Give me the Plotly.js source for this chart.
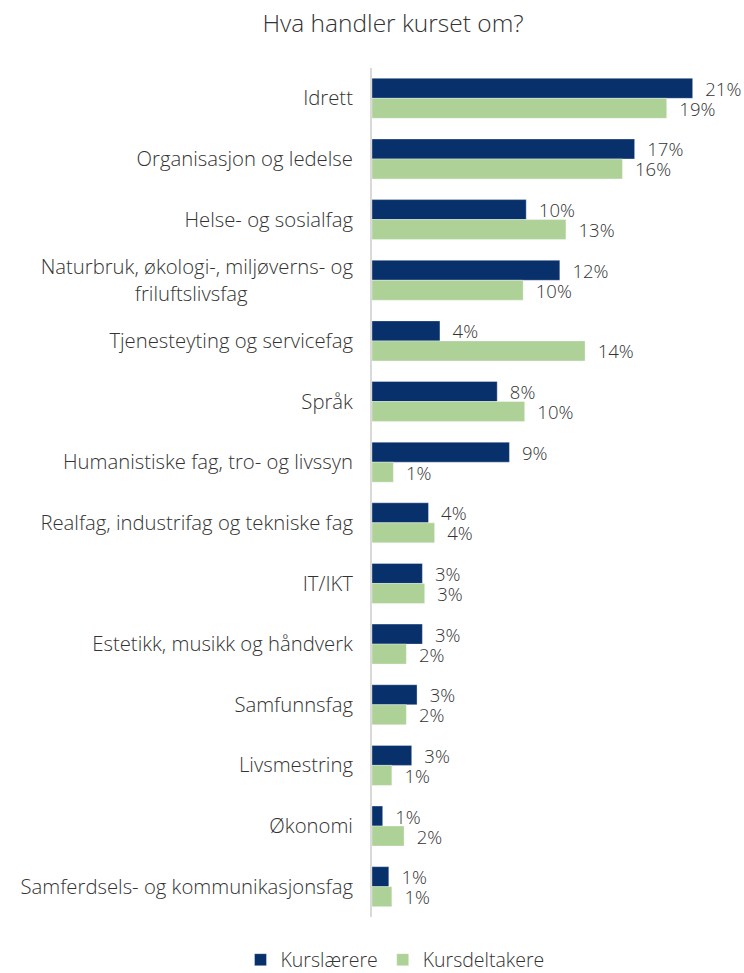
<!DOCTYPE html>
<html>
<head>
<meta charset="utf-8">
<script src="https://cdn.plot.ly/plotly-3.0.1.min.js"></script>
<style>html,body{margin:0;padding:0;background:#fff;}#chart{width:744px;height:973px;}</style>
</head>
<body>
<div id="chart"></div>
<script>
const categories = [
  "Idrett",
  "Organisasjon og ledelse",
  "Helse- og sosialfag",
  "Naturbruk, økologi-, miljøverns- og friluftslivsfag",
  "Tjenesteyting og servicefag",
  "Språk",
  "Humanistiske fag, tro- og livssyn",
  "Realfag, industrifag og tekniske fag",
  "IT/IKT",
  "Estetikk, musikk og håndverk",
  "Samfunnsfag",
  "Livsmestring",
  "Økonomi",
  "Samferdsels- og kommunikasjonsfag"
];
const seriesNames = ["Kurslærere", "Kursdeltakere"];
const kurslaerere = [21.0, 17.2, 10.1, 12.3, 4.45, 8.2, 9.0, 3.7, 3.3, 3.3, 2.95, 2.6, 0.7, 1.1];
const kursdeltakere = [19.3, 16.4, 12.7, 9.9, 13.95, 10.0, 1.4, 4.1, 3.45, 2.25, 2.25, 1.3, 2.1, 1.3];
const labelsKurslaerere = ["21%", "17%", "10%", "12%", "4%", "8%", "9%", "4%", "3%", "3%", "3%", "3%", "1%", "1%"];
const labelsKursdeltakere = ["19%", "16%", "13%", "10%", "14%", "10%", "1%", "4%", "3%", "2%", "2%", "1%", "2%", "1%"];

const FONT = "'Open Sans', Lato, sans-serif";
const pad = "\u00a0\u00a0";
const textColor = "#333333";

// display text for tick labels: wrap the long one, centring its second line
const tickText = categories.map(c => c.startsWith("Naturbruk")
  ? "Naturbruk, økologi-, miljøverns- og<br>friluftslivsfag" + "\u00a0".repeat(20)
  : c);

function bar(name, vals, labels, color) {
  return {
    type: "bar",
    orientation: "h",
    name: name,
    y: categories,
    x: vals,
    text: labels.map(l => pad + l),
    textposition: "outside",
    constraintext: "none",
    cliponaxis: false,
    textfont: {family: FONT, size: 18.5, color: textColor, weight: 300},
    marker: {color: color, line: {color: "rgba(255,255,255,0.35)", width: 1}},
    hoverinfo: "skip"
  };
}

const data = [
  bar(seriesNames[0], kurslaerere, labelsKurslaerere, "#08306b"),
  bar(seriesNames[1], kursdeltakere, labelsKursdeltakere, "#add196")
];

const plotW = 744 - 372 - 2;
const layout = {
  width: 744,
  height: 973,
  margin: {l: 372, r: 2, t: 68, b: 56, pad: 0, autoexpand: false},
  paper_bgcolor: "#fff",
  plot_bgcolor: "#fff",
  font: {family: FONT, color: textColor, size: 19, weight: 300},
  title: {
    text: "Hva handler kurset om?",
    font: {family: FONT, size: 24.5, color: textColor, weight: 300},
    x: 393 / 744, xanchor: "center", xref: "container",
    y: 1 - 23 / 973, yanchor: "middle", yref: "container"
  },
  barmode: "group",
  bargap: 0.34,
  bargroupgap: 0,
  showlegend: true,
  legend: {
    orientation: "h",
    x: 395 / 744, xanchor: "center", xref: "container",
    y: 13 / 973, yanchor: "middle", yref: "container",
    font: {family: FONT, size: 19.5, color: textColor, weight: 300},
    itemwidth: 30,
    traceorder: "normal"
  },
  xaxis: {
    range: [0, plotW / 15.27],
    showgrid: false, zeroline: false, showline: false,
    showticklabels: false, ticks: ""
  },
  yaxis: {
    type: "category",
    autorange: "reversed",
    showgrid: false, zeroline: false,
    showline: true, linecolor: "#d9d9d9", linewidth: 2,
    ticks: "", ticklen: 0,
    tickmode: "array", tickvals: categories, ticktext: tickText,
    ticklabelstandoff: 13,
    tickfont: {family: FONT, size: 20.3, color: textColor, weight: 300}
  }
};

Plotly.newPlot("chart", data, layout, {displayModeBar: false, staticPlot: true});
</script>
</body>
</html>
